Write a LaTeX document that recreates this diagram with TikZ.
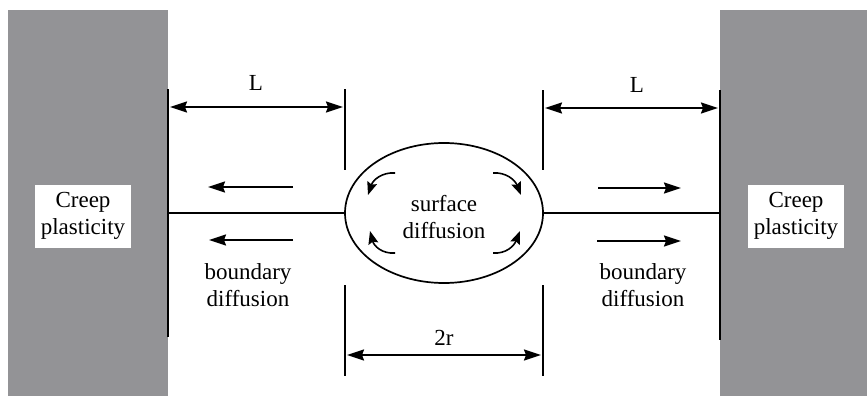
\documentclass[tikz,border=0pt]{standalone}
\usepackage{fontspec}
\setmainfont{Liberation Serif}
\usetikzlibrary{shapes.geometric,arrows.meta}
\definecolor{wallgray}{RGB}{147,147,150}
\begin{document}
\begin{tikzpicture}[x=1pt,y=-1pt,
  lbl/.style={font=\fontsize{23}{27}\selectfont, align=center, inner sep=0pt},
  head/.tip={Stealth[length=17pt,width=11pt,inset=2pt]},
  shead/.tip={Stealth[length=13pt,width=10pt,inset=2pt]},
  arr/.style={line width=2pt, -head},
  dim/.style={line width=2pt, head-head},
  sarr/.style={line width=1.6pt, -shead},
  wall/.style={line width=2.6pt},
  tick/.style={line width=2pt},
  creep/.style={lbl, fill=white, minimum width=96pt, minimum height=63pt}]
\useasboundingbox (0,0) rectangle (867,396);
% grey blocks
\fill[wallgray] (8,10) rectangle (168,396);
\fill[wallgray] (720,10) rectangle (867,396);
% wall lines
\coordinate (lwt) at (168,89); \coordinate (lwb) at (168,337);
\coordinate (rwt) at (720,90); \coordinate (rwb) at (720,340);
\coordinate (lw) at (168,213); \coordinate (rw) at (720,213);
\draw[wall] (lwt) -- (lwb);
\draw[wall] (rwt) -- (rwb);
% pore
\node[draw, line width=1.7pt, ellipse, minimum width=198pt, minimum height=140pt, inner sep=0pt] (pore) at (444,213) {};
\node[lbl] (sd) at (444,217) {surface\\diffusion};
% grain boundary
\draw[line width=2pt] (lw) -- (pore.west);
\draw[line width=2pt] (pore.east) -- (rw);
% ticks
\coordinate (t1a) at (345,89); \coordinate (t1b) at (345,170);
\coordinate (t2a) at (543,90); \coordinate (t2b) at (543,170);
\coordinate (t3a) at (345,285); \coordinate (t3b) at (345,376);
\coordinate (t4a) at (543,285); \coordinate (t4b) at (543,376);
\draw[tick] (t1a) -- (t1b);
\draw[tick] (t2a) -- (t2b);
\draw[tick] (t3a) -- (t3b);
\draw[tick] (t4a) -- (t4b);
% dimension arrows
\coordinate (d1a) at (170,107); \coordinate (d1b) at (343,107);
\coordinate (d2a) at (545,108); \coordinate (d2b) at (718,108);
\coordinate (d3a) at (347,355); \coordinate (d3b) at (541,355);
\draw[dim] (d1a) -- (d1b);
\draw[dim] (d2a) -- (d2b);
\draw[dim] (d3a) -- (d3b);
\node[lbl] (L1) at (256,83) {L};
\node[lbl] (L2) at (637,85) {L};
\node[lbl] (tr) at (444,338) {2r};
% boundary diffusion arrows
\coordinate (a1s) at (293,187); \coordinate (a1e) at (208,187);
\coordinate (a2s) at (293,240); \coordinate (a2e) at (209,240);
\coordinate (a3s) at (598,188); \coordinate (a3e) at (681,188);
\coordinate (a4s) at (597,241); \coordinate (a4e) at (681,241);
\draw[arr] (a1s) -- (a1e);
\draw[arr] (a2s) -- (a2e);
\draw[arr] (a3s) -- (a3e);
\draw[arr] (a4s) -- (a4e);
\node[lbl] (bd1) at (248,285) {boundary\\diffusion};
\node[lbl] (bd2) at (643,285) {boundary\\diffusion};
% surface diffusion arrows
\coordinate (s1s) at (395,173); \coordinate (s1e) at (368,195);
\coordinate (s2s) at (493,173); \coordinate (s2e) at (521,195);
\coordinate (s3s) at (395,253); \coordinate (s3e) at (370,231);
\coordinate (s4s) at (493,253); \coordinate (s4e) at (520,231);
\draw[sarr] (s1s) .. controls (382,172) and (373,180) .. (s1e);
\draw[sarr] (s2s) .. controls (506,172) and (515,180) .. (s2e);
\draw[sarr] (s3s) .. controls (382,254) and (374,246) .. (s3e);
\draw[sarr] (s4s) .. controls (506,254) and (514,246) .. (s4e);
% creep boxes
\node[creep] (c1) at (83,216) {Creep\\plasticity};
\node[creep] (c2) at (796,216) {Creep\\plasticity};
\end{tikzpicture}
\end{document}
